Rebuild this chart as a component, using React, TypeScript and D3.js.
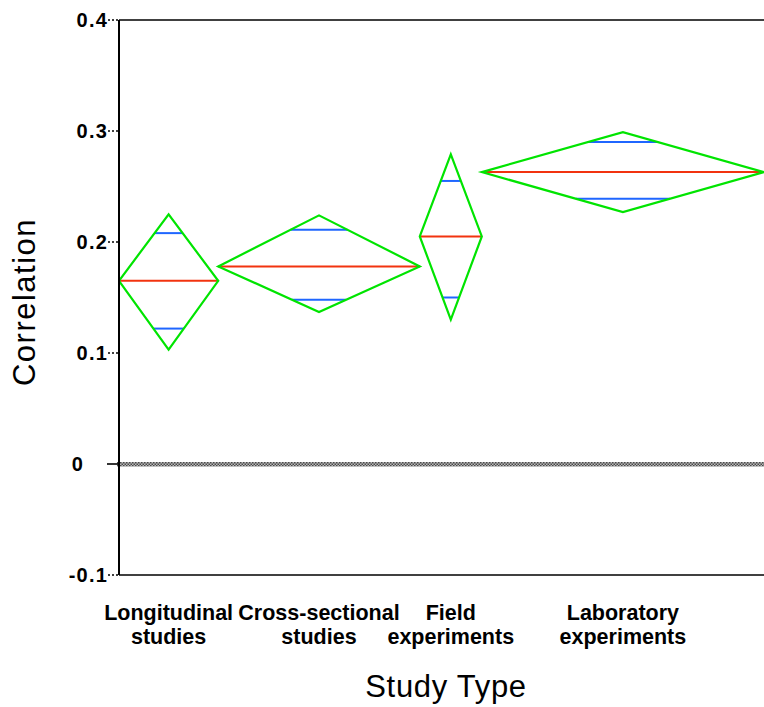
import React from 'react';
import * as d3 from 'd3';

// group labels (two lines each) and estimated group sizes (set the diamond widths)
const categoryLines = [
  ['Longitudinal', 'studies'],
  ['Cross-sectional', 'studies'],
  ['Field', 'experiments'],
  ['Laboratory', 'experiments'],
];
const groupSizes = [32, 65, 20, 91];

// means diamonds: mean, 95% CI, overlap marks
const means = [0.165, 0.178, 0.205, 0.263];
const upper95 = [0.225, 0.224, 0.279, 0.299];
const lower95 = [0.103, 0.137, 0.13, 0.227];
const overlapHi = [0.208, 0.211, 0.255, 0.29];
const overlapLo = [0.122, 0.148, 0.15, 0.239];

const yTicks = [-0.1, 0, 0.1, 0.2, 0.3, 0.4];
const yTickLabels = ['-0.1', '0', '0.1', '0.2', '0.3', '0.4'];

const W = 764;
const H = 707;
const margin = { top: 20, right: 0, bottom: 132, left: 119 };

const GREEN = '#00e400';
const RED = '#f2330f';
const BLUE = '#1f66ff';

const App: React.FC = () => {
  const y = d3
    .scaleLinear()
    .domain([-0.1, 0.4])
    .range([H - margin.bottom, margin.top]);

  const total = d3.sum(groupSizes);
  const x = d3
    .scaleLinear()
    .domain([0, total])
    .range([margin.left, W - margin.right]);

  const starts = d3.cumsum([0, ...groupSizes]);

  const groups = means.map((m, i) => {
    const x0 = x(starts[i]);
    const x1 = x(starts[i + 1]);
    const xc = (x0 + x1) / 2;
    const half = (x1 - x0) / 2;
    // half width of the diamond at a given value
    const widthAt = (v: number) => {
      const edge = v >= m ? upper95[i] : lower95[i];
      return half * (1 - Math.abs(v - m) / Math.abs(edge - m));
    };
    return { i, m, x0, x1, xc, widthAt };
  });

  const left = margin.left;
  const right = W - margin.right;
  const top = margin.top;
  const bottom = H - margin.bottom;

  return (
    <svg
      width={W}
      height={H}
      style={{ position: 'absolute', left: 0, top: 0, background: '#fff' }}
      fontFamily="'Liberation Sans', Arial, Helvetica, sans-serif"
    >
      <defs>
        <pattern id="checker" width="3" height="3" patternUnits="userSpaceOnUse">
          <rect width="3" height="3" fill="#b8b8b8" />
          <rect width="1.5" height="1.5" fill="#4a4a4a" />
          <rect x="1.5" y="1.5" width="1.5" height="1.5" fill="#4a4a4a" />
        </pattern>
        <clipPath id="plot">
          <rect x={left} y={top - 2} width={right - left} height={bottom - top + 4} />
        </clipPath>
      </defs>

      {/* zero reference line */}
      <rect x={left - 2} y={y(0) - 2} width={right - left + 2} height={4.5} fill="url(#checker)" />

      {/* diamonds */}
      <g clipPath="url(#plot)">
        {groups.map(g => (
          <g key={g.i}>
            <line x1={g.x0} x2={g.x1} y1={y(g.m)} y2={y(g.m)} stroke={RED} strokeWidth={2} />
            {[overlapHi[g.i], overlapLo[g.i]].map((v, k) => (
              <line
                key={k}
                x1={g.xc - g.widthAt(v)}
                x2={g.xc + g.widthAt(v)}
                y1={y(v)}
                y2={y(v)}
                stroke={BLUE}
                strokeWidth={2}
              />
            ))}
            <polygon
              points={[
                [g.x0, y(g.m)],
                [g.xc, y(upper95[g.i])],
                [g.x1, y(g.m)],
                [g.xc, y(lower95[g.i])],
              ]
                .map(p => p.join(','))
                .join(' ')}
              fill="none"
              stroke={GREEN}
              strokeWidth={2.2}
              strokeLinejoin="miter"
            />
          </g>
        ))}
      </g>

      {/* frame */}
      <line x1={left} x2={right} y1={top} y2={top} stroke="#000" strokeWidth={1.6} />
      <line x1={left} x2={right} y1={bottom} y2={bottom} stroke="#000" strokeWidth={1.6} />
      <line x1={left} x2={left} y1={top} y2={bottom} stroke="#000" strokeWidth={2} />

      {/* y ticks */}
      {yTicks.map((t, i) => (
        <g key={t}>
          {t === 0 ? (
            <line x1={left - 12} x2={left} y1={y(t)} y2={y(t)} stroke="#000" strokeWidth={1.6} />
          ) : (
            <line
              x1={left - 11}
              x2={left}
              y1={y(t)}
              y2={y(t)}
              stroke="#000"
              strokeWidth={1.4}
              strokeDasharray="2,2"
            />
          )}
          <text
            x={t === 0 ? 78 : left - 11}
            y={y(t) + 7}
            textAnchor={t === 0 ? 'middle' : 'end'}
            fontWeight="bold"
            fontSize={20}
            letterSpacing={1.2}
          >
            {yTickLabels[i]}
          </text>
        </g>
      ))}

      {/* category labels */}
      {groups.map(g => (
        <text key={g.i} textAnchor="middle" fontWeight="bold" fontSize={21.5}>
          {categoryLines[g.i].map((line, k) => (
            <tspan key={k} x={g.xc} y={620 + k * 24}>
              {line}
            </tspan>
          ))}
        </text>
      ))}

      {/* axis titles */}
      <text x={446} y={697} textAnchor="middle" fontSize={31} letterSpacing={0.7}>
        Study Type
      </text>
      <text
        transform="translate(35,302) rotate(-90)"
        textAnchor="middle"
        fontSize={31}
        letterSpacing={1.5}
      >
        Correlation
      </text>
    </svg>
  );
};

export default App;
